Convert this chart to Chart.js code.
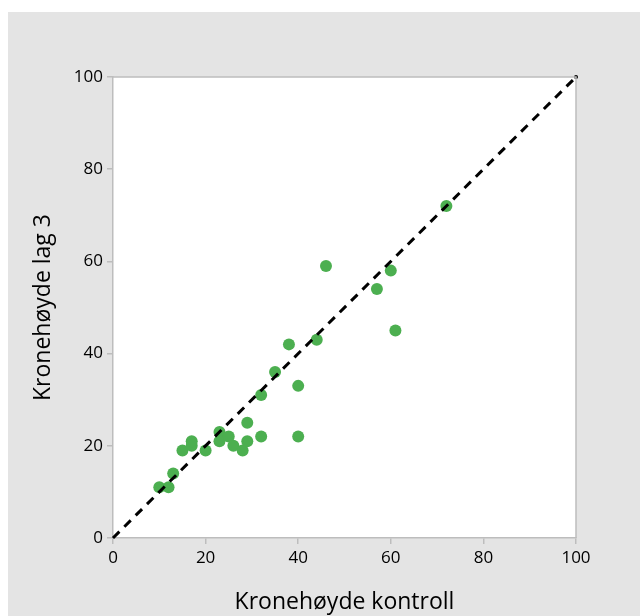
<!DOCTYPE html>
<html>
<head>
<meta charset="utf-8">
<script src="https://cdn.jsdelivr.net/npm/chart.js@4/dist/chart.umd.min.js"></script>
<style>
	html, body { margin: 0; padding: 0; background: #fff; }
	#wrap { position: absolute; left: 8px; top: 12px; width: 632px; height: 604px; background: #e4e4e4; }
</style>
</head>
<body>
<div id="wrap"><canvas id="kroneChart" width="632" height="604"></canvas></div>
<script>
'use strict';
// Kronehøyde kontroll (x) vs Kronehøyde lag 3 (y)
const aryKontroll = [10, 12, 13, 15, 17, 17, 20, 23, 23, 25, 26, 28, 29, 29, 32, 40, 32, 40, 35, 38, 44, 61, 57, 60, 46, 72];
const aryLag3 = [11, 11, 14, 19, 20, 21, 19, 23, 21, 22, 20, 19, 21, 25, 22, 22, 31, 33, 36, 42, 43, 45, 54, 58, 59, 72];
// 1:1 reference line
const aryRefX = [0, 100];
const aryRefY = [0, 100];
const aryTicks = [0, 20, 40, 60, 80, 100];

const axisGray = '#bdbdbd';
const fontFamily = '"Open Sans", "Noto Sans", sans-serif';

const plotFrame = {
	id: 'plotFrame',
	beforeDraw(chart) {
		const { ctx, chartArea: a } = chart;
		ctx.save();
		ctx.fillStyle = '#ffffff';
		ctx.fillRect(a.left, a.top, a.right - a.left, a.bottom - a.top);
		ctx.restore();
	},
	afterDatasetsDraw(chart) {
		const { ctx, chartArea: a } = chart;
		ctx.save();
		ctx.strokeStyle = axisGray;
		ctx.lineWidth = 1.5;
		ctx.beginPath();
		ctx.moveTo(a.left, a.top);
		ctx.lineTo(a.right, a.top);
		ctx.lineTo(a.right, a.bottom);
		ctx.stroke();
		ctx.restore();
	}
};

function makeAxis(titleText, titlePad, fitFn) {
	return {
		type: 'linear',
		min: 0,
		max: 100,
		afterFit: fitFn,
		afterBuildTicks(scale) {
			scale.ticks = aryTicks.map((v) => ({ value: v }));
		},
		border: { display: true, color: axisGray, width: 1.5 },
		grid: { drawOnChartArea: false, drawTicks: true, tickLength: 6, color: axisGray, lineWidth: 1.5 },
		ticks: { color: '#000', font: { family: fontFamily, size: 17 }, padding: 4 },
		title: {
			display: true,
			text: titleText,
			color: '#000',
			font: { family: fontFamily, size: 23 },
			padding: { top: titlePad, bottom: 0 },
		},
	};
}

const datasets = [];
datasets.push({
	label: 'ref',
	type: 'line',
	data: aryRefX.map((x, i) => ({ x: x, y: aryRefY[i] })),
	borderColor: '#000',
	backgroundColor: '#000',
	borderWidth: 3,
	borderDash: [9, 7],
	pointRadius: [0, 2],
	pointBorderWidth: 0,
	clip: false,
	order: 0,
});
datasets.push({
	label: 'lag3',
	type: 'scatter',
	data: aryKontroll.map((x, i) => ({ x: x, y: aryLag3[i] })),
	backgroundColor: '#4caf50',
	borderWidth: 0,
	pointRadius: 6,
	order: 1,
});

new Chart(document.getElementById('kroneChart'), {
	type: 'scatter',
	data: { datasets: datasets },
	options: {
		responsive: false,
		animation: false,
		layout: { padding: { left: 0, top: 65, right: 64, bottom: 0 } },
		plugins: { legend: { display: false }, tooltip: { enabled: false } },
		scales: {
			x: makeAxis('Kronehøyde kontroll', 2, (s) => { s.height = 78; }),
			y: makeAxis('Kronehøyde lag 3', 22, (s) => { s.width = 105; }),
		},
	},
	plugins: [plotFrame],
});
</script>
</body>
</html>
